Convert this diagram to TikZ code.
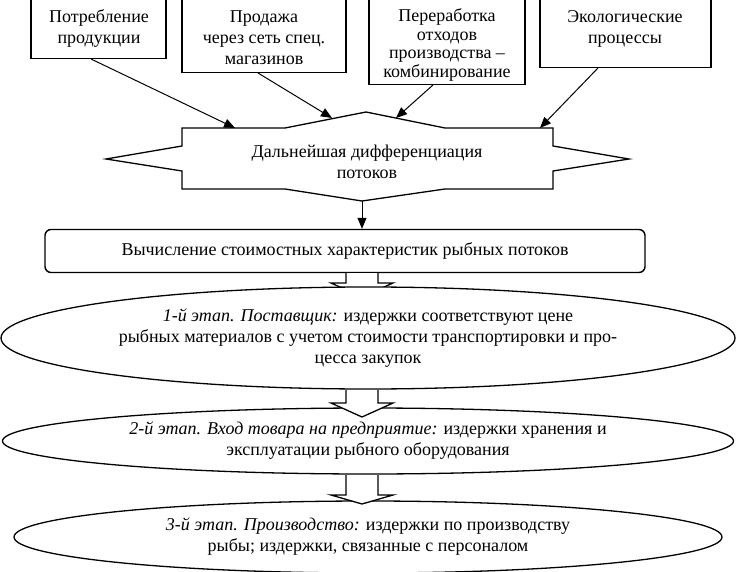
\documentclass[tikz,border=0pt]{standalone}
\usepackage{fontspec}
\setmainfont{Liberation Serif}
\usetikzlibrary{shapes.geometric,arrows.meta,calc}
\begin{document}
\begin{tikzpicture}[x=1pt,y=-1pt,
  box/.style={draw, rectangle, inner sep=0pt, line width=1.4pt},
  txt/.style={align=center, font=\fontsize{18}{21}\selectfont, inner sep=0pt},
  arr/.style={-{Triangle[length=11pt,width=9pt]}, line width=1pt},
  ell/.style={draw, ellipse, fill=white, inner sep=0pt, line width=1.3pt, align=center, font=\fontsize{18}{21}\selectfont},
  blockarr/.style={draw, fill=white, line width=1.3pt, to path={let \p1=(\tikztostart), \p2=(\tikztotarget) in (\x1-16pt,\y1) -- (\x1-16pt,\y2+#1) -- (\x1-31pt,\y2+#1) -- (\x2,\y2) -- (\x1+31pt,\y2+#1) -- (\x1+16pt,\y2+#1) -- (\x1+16pt,\y1)}}
]
\useasboundingbox (0,0) rectangle (736,572);

% top boxes
\node[box, minimum width=135, minimum height=64, anchor=south] (b1) at (98.5,59) {};
\node[txt] (t1) at (99,28.5) {Потребление\\продукции};
\node[box, minimum width=164, minimum height=78, anchor=south] (b2) at (264,73) {};
\node[txt] (t2) at (264,37.5) {Продажа\\через сеть спец.\\магазинов};
\node[box, minimum width=156, minimum height=90, anchor=south] (b3) at (447,85) {};
\node[txt, font=\fontsize{18}{18.5}\selectfont] (t3) at (447,45) {Переработка\\отходов\\производства –\\комбинирование};
\node[box, minimum width=171, minimum height=73, anchor=south] (b4) at (625.5,68) {};
\node[txt] (t4) at (625,28.5) {Экологические\\процессы};

% star shape
\draw[line width=1.3pt] (182,128) -- (285,128) -- (366,112) -- (445,128) -- (553,128) -- (553,146) -- (629,159) -- (553,171) -- (553,189) -- (445,189) -- (362,201) -- (285,189) -- (182,189) -- (182,171) -- (106,159) -- (182,146) -- cycle;
\node[txt] (star) at (367,162) {Дальнейшая дифференциация\\потоков};
\coordinate (s1) at (235,128);
\coordinate (s2) at (332,118);
\coordinate (s3) at (396,118);
\coordinate (s4) at (540,128);
\coordinate (sb) at (362,201);

\draw[arr] ($(b1.south)+(-7.5,0)$) -- (s1);
\draw[arr] ($(b2.south)+(-6,0)$) -- (s2);
\draw[arr] ($(b3.south)+(-14,0)$) -- (s3);
\draw[arr] ($(b4.south)+(-27.5,0)$) -- (s4);

% calc box
\node[box, rounded corners=6pt, minimum width=600, minimum height=43, txt] (calc) at (345,251) {Вычисление стоимостных характеристик рыбных потоков};
\draw[arr] (sb) -- (sb |- calc.north);

% block arrow 1 (head hidden by ellipse)
\draw[blockarr=14pt] ($(calc.south)+(17,0)$) to (362,297);

\node[ell, minimum width=734, minimum height=102] (e1) at (368,338) {\textit{1-й этап. Поставщик:} издержки соответствуют цене\\рыбных материалов с учетом стоимости транспортировки и про-\\цесса закупок};
\node[ell, minimum width=731, minimum height=66] (e2) at (368,441) {\textit{2-й этап. Вход товара на предприятие:} издержки хранения и\\эксплуатации рыбного оборудования};
\draw[blockarr=14pt] ($(e1.south)+(-6,0.5)$) to (362,417);
\node[ell, minimum width=708, minimum height=72] (e3) at (368,537) {\textit{3-й этап. Производство:} издержки по производству\\рыбы; издержки, связанные с персоналом};
\draw[blockarr=9pt] ($(e2.south)+(-6,0.5)$) to (362,504);
\end{tikzpicture}
\end{document}
